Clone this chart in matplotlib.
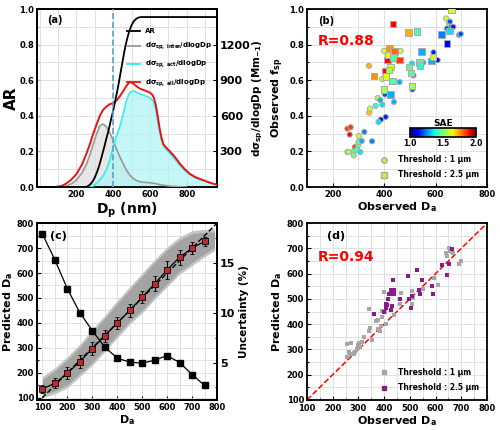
import numpy as np
import matplotlib
matplotlib.use("Agg")
import matplotlib.pyplot as plt
from matplotlib.lines import Line2D

plt.rcParams['font.family'] = ['DejaVu Sans']
plt.rcParams['font.weight'] = 'bold'
plt.rcParams['axes.labelweight'] = 'bold'

# ---------------- Panel (a) data ----------------
ar_dp = [0, 250, 262, 275, 287, 300, 312, 325, 337, 350, 362, 375, 387, 400, 412, 425, 437, 450, 462, 475,
         487, 500, 512, 525, 537, 550, 965]
ar_val = [0, 0, 0.005, 0.015, 0.03, 0.055, 0.085, 0.125, 0.17, 0.22, 0.27, 0.32, 0.375, 0.43, 0.49, 0.555,
          0.625, 0.70, 0.77, 0.83, 0.875, 0.91, 0.932, 0.945, 0.952, 0.955, 0.955]

inter_dp = [100, 145, 175, 200, 230, 255, 275, 291, 310, 327, 340, 352, 364, 382, 400, 418, 436, 455, 473,
            491, 509, 527, 545, 564, 582, 600, 627, 650, 673, 709, 764, 800]
inter_val = [0, 8, 30, 60, 120, 195, 280, 360, 450, 515, 530, 525, 505, 455, 390, 320, 255, 195, 140, 100,
             72, 55, 45, 40, 38, 36, 30, 22, 15, 8, 2, 0]

act_dp = [273, 290, 310, 327, 345, 364, 382, 400, 418, 436, 455, 473, 485, 495, 509, 527, 545, 564, 582,
          600, 612, 622, 632, 642, 652, 662, 673, 690, 709, 730, 764, 790, 818, 845, 873, 900, 930, 964]
act_val = [0, 8, 30, 60, 95, 150, 230, 340, 430, 510, 620, 735, 780, 800, 810, 800, 785, 775, 765, 750, 735,
           710, 650, 560, 470, 400, 350, 315, 285, 245, 180, 140, 105, 80, 62, 48, 33, 18]

all_dp = [82, 120, 145, 170, 200, 230, 255, 275, 291, 310, 327, 345, 364, 382, 400, 418, 436, 455, 473,
          485, 495, 509, 527, 545, 564, 582, 600, 612, 622, 632, 642, 652, 662, 673, 690, 709, 730, 764, 790,
          818, 845, 873, 900, 930, 964]
all_val = [0, 10, 30, 60, 110, 190, 285, 370, 450, 530, 600, 650, 680, 698, 708, 730, 765, 810, 855, 878,
           885, 872, 848, 830, 818, 808, 795, 780, 750, 690, 600, 500, 420, 360, 330, 300, 265, 195, 150,
           110, 85, 68, 52, 35, 20]

# ---------------- Panel (b)/(d) data ----------------
# threshold 1 um (circles in b, gray in d)
c_obs = [257, 262, 257, 270, 266, 286, 282, 282, 295, 299, 300, 302, 307, 313, 323, 353, 342, 345, 367, 375,
         385, 393, 387, 378, 406, 438, 341, 393, 400, 403, 464, 460, 508, 514, 510, 552, 592, 608, 641, 644,
         652, 656, 662, 669, 691, 698]
c_fsp = [0.197, 0.197, 0.328, 0.336, 0.295, 0.225, 0.20, 0.178, 0.21, 0.235, 0.253, 0.287, 0.197, 0.259, 0.31,
         0.257, 0.418, 0.44, 0.456, 0.50, 0.488, 0.463, 0.379, 0.366, 0.394, 0.478, 0.681, 0.606, 0.765, 0.52,
         0.765, 0.59, 0.694, 0.627, 0.548, 0.70, 0.757, 0.713, 0.947, 0.891, 0.92, 0.929, 0.90, 0.90, 0.854, 0.86]
c_sae = [1.6, 1.55, 1.85, 1.85, 1.9, 1.85, 1.45, 1.5, 1.45, 1.45, 1.45, 1.58, 1.35, 1.3, 1.25, 1.25, 1.7, 1.6,
         1.4, 1.55, 1.3, 1.35, 1.1, 1.35, 1.15, 1.3, 1.72, 1.58, 1.62, 1.2, 1.6, 1.3, 1.35, 1.2, 1.2, 1.3, 1.15,
         1.1, 1.6, 1.2, 1.55, 1.2, 1.2, 1.15, 1.3, 1.2]
c_pred = [271, 288, 323, 327, 281, 290, 285, 280, 300, 307, 317, 325, 310, 330, 350, 336, 371, 386, 413, 415,
          373, 428, 393, 380, 402, 436, 461, 452, 528, 448, 524, 478, 531, 504, 478, 541, 583, 554, 682, 669,
          702, 690, 686, 680, 638, 649]

# threshold 2.5 um (squares in b, purple in d)
s_obs = [360, 399, 406, 413, 416, 421, 425, 419, 408, 425, 432, 440, 437, 435, 460, 494, 527, 497, 504, 508,
         537, 539, 546, 585, 590, 624, 644, 654, 662]
s_fsp = [0.625, 0.548, 0.653, 0.713, 0.741, 0.782, 0.675, 0.657, 0.622, 0.52, 0.597, 0.76, 0.728, 0.915, 0.713,
         0.869, 0.873, 0.675, 0.642, 0.567, 0.70, 0.682, 0.76, 0.707, 0.73, 0.857, 0.807, 0.876, 0.994]
s_sae = [1.75, 1.55, 1.9, 1.9, 1.65, 1.75, 1.62, 1.55, 1.62, 1.3, 1.45, 1.8, 1.45, 1.9, 1.85, 1.72, 1.45, 1.45,
         1.45, 1.55, 1.45, 1.4, 1.3, 1.3, 1.58, 1.25, 1.1, 1.35, 1.6]
s_pred = [441, 449, 463, 476, 498, 518, 537, 520, 480, 455, 471, 520, 537, 573, 500, 590, 616, 498, 465, 511,
          537, 518, 573, 550, 520, 633, 594, 637, 698]

# ---------------- Panel (c) data ----------------
c_bins = [100, 150, 200, 250, 300, 350, 400, 450, 500, 550, 600, 650, 700, 750]
c_mean = [135, 158, 198, 245, 297, 348, 400, 450, 503, 557, 613, 663, 700, 727]
c_err = [15, 20, 25, 25, 25, 25, 25, 25, 25, 30, 35, 30, 25, 18]
c_unc = [17.9, 15.3, 12.4, 10.0, 8.2, 6.55, 5.44, 5.04, 4.94, 5.24, 5.7, 5.0, 3.8, 2.7]

band_x = [100, 150, 200, 250, 300, 350, 400, 450, 500, 550, 600, 650, 700, 750, 790]
band_lo = [100, 115, 140, 185, 230, 285, 340, 395, 440, 495, 545, 595, 630, 665, 690]
band_hi = [185, 220, 265, 315, 375, 430, 490, 545, 600, 655, 705, 745, 770, 775, 778]

# ---------------- Figure ----------------
fig = plt.figure(figsize=(5.0, 4.3), dpi=100)
axa = fig.add_axes([0.074, 0.565, 0.36, 0.414])
axb = fig.add_axes([0.614, 0.565, 0.36, 0.414])
axc = fig.add_axes([0.074, 0.070, 0.36, 0.411])
axd = fig.add_axes([0.614, 0.070, 0.36, 0.411])

GRID = '#dcdcdc'
tick_fs = 6
def style(ax, fs=tick_fs):
    ax.tick_params(which='both', direction='in', labelsize=fs, width=0.8, pad=2)
    ax.tick_params(which='major', length=3)
    ax.tick_params(which='minor', length=1.5)
    for s in ax.spines.values():
        s.set_linewidth(1.3)
    for lab in ax.get_xticklabels() + ax.get_yticklabels():
        lab.set_fontweight('bold')

# ---- (a)
axa.set_xlim(-15, 965)
axa.set_ylim(0, 1.0)
axa.set_xticks([200, 400, 600, 800])
axa.set_xticks([0, 100, 300, 500, 700, 900], minor=True)
axa.set_yticks(np.arange(0, 1.01, 0.2))
axa.set_yticks(np.arange(0.1, 1.0, 0.2), minor=True)
axa.set_xlabel('D$_\\mathbf{p}$ (nm)', fontsize=10, fontweight='bold', labelpad=1)
axa.set_ylabel('AR', fontsize=11, fontweight='bold')
axa.yaxis.set_label_coords(-0.10, 0.5)
style(axa)

axa2 = axa.twinx()
axa2.set_ylim(0, 1500)
axa2.set_yticks([300, 600, 900, 1200])
for xv in [0, 100, 200, 300, 400, 500, 600, 700, 800, 900]:
    axa2.axvline(xv, color=GRID, lw=0.6, zorder=0)
for yv in np.arange(150, 1500, 150):
    axa2.axhline(yv, color=GRID, lw=0.6, zorder=0)
axa2.fill_between(inter_dp, inter_val, color='#dedede', alpha=0.7, lw=0, zorder=1)
axa2.fill_between(act_dp, act_val, color='#aef4f4', alpha=0.7, lw=0, zorder=1)
axa2.plot(inter_dp, inter_val, color='#999999', lw=1.2, zorder=3)
axa2.plot(act_dp, act_val, color='#33eeee', lw=1.2, zorder=3)
axa2.plot(all_dp, all_val, color='#ee1111', lw=1.4, zorder=4)
axa2.plot(np.array(ar_dp), np.array(ar_val) * 1500, color='black', lw=1.3, zorder=5)
axa2.axvline(400, color='#5a9fd4', ls='--', lw=1.2, zorder=6)
axa2.set_ylabel('dσ$_\\mathbf{sp}$/dlogDp (Mm$_\\mathbf{-1}$)', fontsize=7.5, fontweight='bold')
axa2.yaxis.set_label_coords(1.185, 0.5)
style(axa2, fs=8)
axa2.text(0.055, 0.94, '(a)', transform=axa.transAxes, fontsize=7, fontweight='bold', va='center')
handles = [Line2D([], [], color='black', lw=1.3),
           Line2D([], [], color='#999999', lw=1.3),
           Line2D([], [], color='#33eeee', lw=1.3),
           Line2D([], [], color='#ee1111', lw=1.3)]
labels = ['AR', 'dσ$_\\mathbf{sp,\\ inter}$/dlogDp', 'dσ$_\\mathbf{sp,\\ act}$/dlogDp', 'dσ$_\\mathbf{sp,\\ all}$/dlogDp']
leg = axa2.legend(handles, labels, loc='upper left', bbox_to_anchor=(0.49, 0.9), frameon=False,
                  fontsize=5.0, handlelength=2.0, labelspacing=0.95, borderpad=0.2, handletextpad=0.6,
                  borderaxespad=0)
leg.set_zorder(10)
for t in leg.get_texts():
    t.set_fontweight('bold')

# ---- (b)
axb.set_xlim(100, 800)
axb.set_ylim(0, 1.0)
axb.set_xticks([200, 400, 600, 800])
axb.set_xticks([100, 300, 500, 700], minor=True)
axb.set_yticks(np.arange(0, 1.01, 0.2))
axb.set_yticks(np.arange(0.1, 1.0, 0.2), minor=True)
axb.grid(True, which='both', color=GRID, lw=0.6)
axb.set_axisbelow(True)
sc = axb.scatter(c_obs, c_fsp, c=c_sae, cmap='jet', vmin=1.0, vmax=2.0, marker='o', s=14,
                 edgecolors='#aaaaaa', linewidths=0.7, zorder=3)
axb.scatter(s_obs, s_fsp, c=s_sae, cmap='jet', vmin=1.0, vmax=2.0, marker='s', s=22,
            edgecolors='#aaaaaa', linewidths=0.7, zorder=3)
axb.set_xlabel('Observed D$_\\mathbf{a}$', fontsize=8, fontweight='bold', labelpad=1)
axb.set_ylabel('Observed f$_\\mathbf{sp}$', fontsize=8, fontweight='bold')
axb.yaxis.set_label_coords(-0.115, 0.5)
style(axb)
axb.text(0.06, 0.93, '(b)', transform=axb.transAxes, fontsize=7, fontweight='bold', va='center')
axb.text(0.06, 0.82, 'R=0.88', transform=axb.transAxes, fontsize=10, fontweight='bold', color='red', va='center')
cax = axb.inset_axes([0.57, 0.28, 0.37, 0.05])
cb = fig.colorbar(sc, cax=cax, orientation='horizontal')
cb.set_ticks([1.0, 1.5, 2.0])
cb.ax.tick_params(labelsize=5.5, length=0, pad=1.5)
for lab in cb.ax.get_xticklabels():
    lab.set_fontweight('bold')
cb.outline.set_linewidth(1.2)
cax.set_title('SAE', fontsize=6.5, fontweight='bold', pad=2)
hb = [Line2D([], [], ls='', marker='o', markersize=4, markerfacecolor='#c8f03c', markeredgecolor='#aaaaaa'),
      Line2D([], [], ls='', marker='s', markersize=4.5, markerfacecolor='#c8f03c', markeredgecolor='#aaaaaa')]
legb = axb.legend(hb, ['Threshold : 1 μm', 'Threshold : 2.5 μm'], loc='lower right', frameon=False,
                  fontsize=5.5, handletextpad=0.8, borderpad=0.5, labelspacing=0.8)
for t in legb.get_texts():
    t.set_fontweight('bold')

# ---- (c)
axc.set_xlim(78, 800)
axc.set_ylim(91, 800)
axc.set_xticks(np.arange(100, 801, 100))
axc.set_xticks(np.arange(150, 800, 100), minor=True)
axc.set_yticks(np.arange(100, 801, 100))
axc.set_yticks(np.arange(150, 800, 100), minor=True)
axc.grid(True, which='both', color=GRID, lw=0.6)
axc.set_axisbelow(True)
axc.fill_between(band_x, band_lo, band_hi, color='#c4c4c4', lw=0, zorder=1)
axc.fill_between(band_x, np.array(band_lo) + 12, np.array(band_hi) - 12, color='#a3a3a3', lw=0, zorder=1)
axc.plot([78, 800], [78, 800], color='black', ls='--', lw=1.0, zorder=3)
axc.errorbar(c_bins, c_mean, yerr=c_err, color='black', lw=0.9, elinewidth=0.8, capsize=1.5,
             marker='s', markersize=4, markerfacecolor='#c0282d', markeredgecolor='black',
             markeredgewidth=0.6, zorder=4)
axc.set_xlabel('D$_\\mathbf{a}$', fontsize=8, fontweight='bold', labelpad=1)
axc.set_ylabel('Predicted D$_\\mathbf{a}$', fontsize=8, fontweight='bold')
axc.yaxis.set_label_coords(-0.12, 0.5)
style(axc)
axc.text(0.07, 0.93, '(c)', transform=axc.transAxes, fontsize=8, fontweight='bold', va='center')
axc2 = axc.twinx()
axc2.set_ylim(1.25, 19)
axc2.set_yticks([5, 10, 15])
axc2.set_yticks([2.5, 7.5, 12.5, 17.5], minor=True)
axc2.plot(c_bins, c_unc, color='black', lw=0.9, marker='s', markersize=4, zorder=5)
axc2.set_ylabel('Uncertainty (%)', fontsize=7.5, fontweight='bold', labelpad=3)
style(axc2, fs=8)

# ---- (d)
axd.set_xlim(100, 800)
axd.set_ylim(100, 800)
axd.set_xticks(np.arange(100, 801, 100))
axd.set_xticks(np.arange(150, 800, 100), minor=True)
axd.set_yticks(np.arange(100, 801, 100))
axd.set_yticks(np.arange(150, 800, 100), minor=True)
axd.grid(True, which='both', color=GRID, lw=0.6)
axd.set_axisbelow(True)
axd.plot([100, 800], [100, 800], color='red', ls='--', lw=1.1, zorder=2)
axd.scatter(c_obs, c_pred, marker='s', s=10, color='#a6a6a6', lw=0, zorder=3)
axd.scatter(s_obs, s_pred, marker='s', s=10, color='#8b1a8b', lw=0, zorder=3)
axd.set_xlabel('Observed D$_\\mathbf{a}$', fontsize=8, fontweight='bold', labelpad=1)
axd.set_ylabel('Predicted D$_\\mathbf{a}$', fontsize=8, fontweight='bold')
axd.yaxis.set_label_coords(-0.125, 0.5)
style(axd)
axd.tick_params(axis='x', pad=3)
axd.text(0.11, 0.93, '(d)', transform=axd.transAxes, fontsize=8, fontweight='bold', va='center')
axd.text(0.06, 0.81, 'R=0.94', transform=axd.transAxes, fontsize=10, fontweight='bold', color='red', va='center')
hd = [Line2D([], [], ls='', marker='s', markersize=3.5, color='#a6a6a6'),
      Line2D([], [], ls='', marker='s', markersize=3.5, color='#8b1a8b')]
legd = axd.legend(hd, ['Threshold : 1 μm', 'Threshold : 2.5 μm'], loc='lower right', frameon=False,
                  fontsize=5.5, handletextpad=0.8, borderpad=0.5, labelspacing=0.8)
for t in legd.get_texts():
    t.set_fontweight('bold')

fig.savefig('out.png', dpi=100)
